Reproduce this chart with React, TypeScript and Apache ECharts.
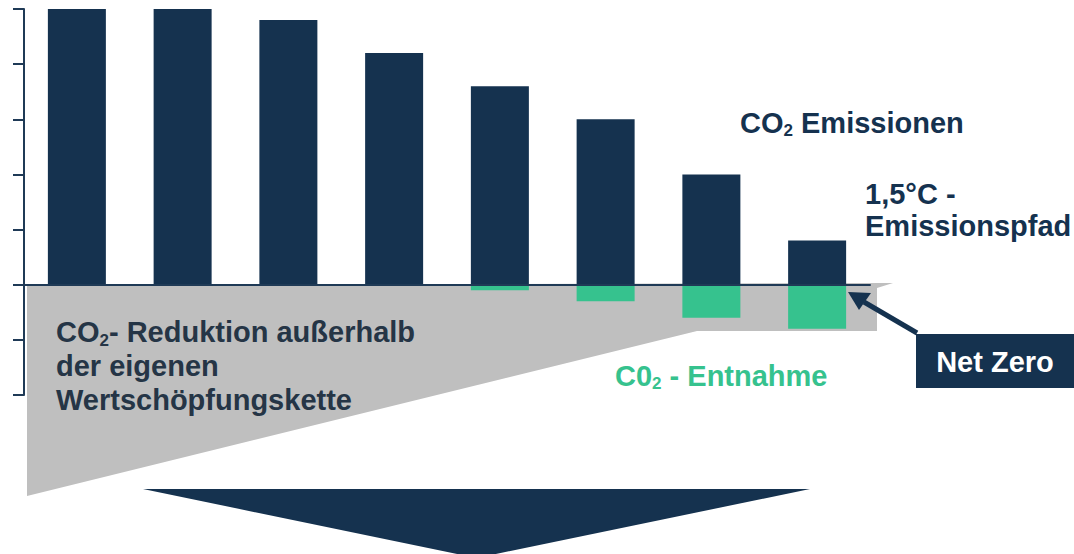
import React, { useEffect, useRef } from "react";
import * as echarts from "echarts";

const categories = ["1", "2", "3", "4", "5", "6", "7", "8"];
const emissions = [5.0, 5.0, 4.8, 4.2, 3.6, 3.0, 2.0, 0.8];
const removals = [0, 0, 0, 0, -0.1, -0.3, -0.6, -0.8];
const yMin = -2;
const yMax = 5;
const yInterval = 1;

const NAVY = "#15324F";
const GREEN = "#36C28E";
const GRAY = "#BFBFBF";
const FONT = "'Liberation Sans', Arial, sans-serif";

export default function App() {
  const ref = useRef<HTMLDivElement>(null);
  useEffect(() => {
    if (!ref.current) return;
    const chart = echarts.init(ref.current, undefined, { renderer: "svg" });
    const main = (color: string, lh: number) => ({
      fontSize: 29,
      fontWeight: "bold",
      fontFamily: FONT,
      fill: color,
      lineHeight: lh,
    });
    const sub = (color: string) => ({
      fontSize: 17,
      fontWeight: "bold",
      fontFamily: FONT,
      fill: color,
      lineHeight: 7,
      verticalAlign: "bottom",
    });
    chart.setOption({
      animation: false,
      grid: { left: 24, right: 204, top: 9, bottom: 159, containLabel: false },
      xAxis: {
        type: "category",
        data: categories,
        z: 5,
        axisLine: { show: true, onZero: true, lineStyle: { color: "#1F3A56", width: 2 } },
        axisTick: { show: false },
        axisLabel: { show: false },
        splitLine: { show: false },
      },
      yAxis: {
        type: "value",
        min: yMin,
        max: yMax,
        interval: yInterval,
        axisLine: { show: true, lineStyle: { color: "#1F3A56", width: 2 } },
        axisTick: { show: true, inside: false, length: 11, lineStyle: { color: "#1F3A56", width: 2 } },
        axisLabel: { show: false },
        splitLine: { show: false },
      },
      series: [
        {
          type: "bar",
          name: "CO2 Emissionen",
          data: emissions,
          stack: "total",
          barWidth: 58,
          itemStyle: { color: NAVY },
          z: 3,
        },
        {
          type: "bar",
          name: "C02 - Entnahme",
          data: removals,
          stack: "total",
          barWidth: 58,
          itemStyle: { color: GREEN },
          z: 3,
        },
      ],
      graphic: [
        {
          type: "polygon",
          z: 0,
          shape: {
            points: [
              [27, 285],
              [893, 283],
              [877, 288],
              [877, 331],
              [697, 331],
              [27, 496],
            ],
          },
          style: { fill: GRAY },
        },
        {
          type: "polygon",
          z: 10,
          shape: {
            points: [
              [143, 489],
              [810, 489],
              [476.5, 558],
            ],
          },
          style: { fill: NAVY },
        },
        {
          type: "text",
          z: 10,
          style: {
            x: 740,
            y: 107,
            align: "left",
            verticalAlign: "top",
            text: "{a|CO}{s|2}{a| Emissionen}",
            rich: { a: main(NAVY, 32), s: sub(NAVY) },
          },
        },
        {
          type: "text",
          z: 10,
          style: {
            x: 865,
            y: 178,
            align: "left",
            verticalAlign: "top",
            text: "{a|1,5°C -}\n{a|Emissionspfad}",
            rich: { a: main(NAVY, 32) },
          },
        },
        {
          type: "text",
          z: 10,
          style: {
            x: 56,
            y: 315,
            align: "left",
            verticalAlign: "top",
            text: "{a|CO}{s|2}{a|- Reduktion außerhalb}\n{a|der eigenen}\n{a|Wertschöpfungskette}",
            rich: { a: main("#253546", 34), s: sub("#253546") },
          },
        },
        {
          type: "text",
          z: 10,
          style: {
            x: 615,
            y: 360,
            align: "left",
            verticalAlign: "top",
            text: "{a|C0}{s|2}{a| - Entnahme}",
            rich: { a: main(GREEN, 32), s: sub(GREEN) },
          },
        },
        {
          type: "rect",
          z: 10,
          shape: { x: 916, y: 334, width: 160, height: 54 },
          style: { fill: NAVY },
        },
        {
          type: "text",
          z: 11,
          style: {
            x: 995,
            y: 362,
            align: "center",
            verticalAlign: "middle",
            text: "Net Zero",
            fontSize: 29,
            fontWeight: "bold",
            fontFamily: FONT,
            fill: "#FFFFFF",
          },
        },
        {
          type: "line",
          z: 10,
          shape: { x1: 917, y1: 333, x2: 864, y2: 302 },
          style: { stroke: NAVY, lineWidth: 5 },
        },
        {
          type: "polygon",
          z: 10,
          shape: {
            points: [
              [848, 292],
              [859, 310],
              [871, 293],
            ],
          },
          style: { fill: NAVY },
        },
      ],
    });
    return () => chart.dispose();
  }, []);
  return (
    <div
      ref={ref}
      style={{ position: "fixed", left: 0, top: 0, width: 1074, height: 554, background: "#FFFFFF" }}
    />
  );
}
